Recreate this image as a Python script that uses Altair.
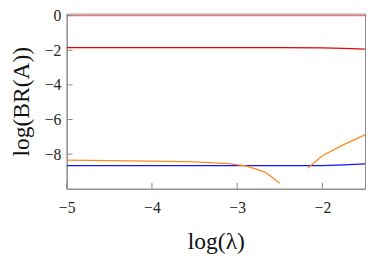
import altair as alt
import pandas as pd

# Series values (log10 lambda, log10 BR)
x_flat = [-5.0, -4.0, -3.0, -2.5, -2.0, -1.75, -1.5]
y_top = [0.0, 0.0, 0.0, 0.0, 0.0, 0.0, 0.0]
y_red = [-1.85, -1.85, -1.85, -1.85, -1.86, -1.89, -1.94]
y_blue = [-8.67, -8.67, -8.67, -8.67, -8.66, -8.62, -8.56]

x_orange1 = [-5.0, -4.5, -4.0, -3.5, -3.1, -2.9, -2.67, -2.5]
y_orange1 = [-8.35, -8.37, -8.40, -8.45, -8.55, -8.68, -9.04, -9.68]
x_orange2 = [-2.17, -2.0, -1.75, -1.5]
y_orange2 = [-8.80, -8.09, -7.45, -6.89]

x_ticks = [-5, -4, -3, -2]
y_ticks = [0, -2, -4, -6, -8]

rows = []
for x, y in zip(x_flat, y_top):
    rows.append(dict(x=x, y=y, s="top"))
for x, y in zip(x_flat, y_red):
    rows.append(dict(x=x, y=y, s="red"))
for x, y in zip(x_flat, y_blue):
    rows.append(dict(x=x, y=y, s="blue"))
for x, y in zip(x_orange1, y_orange1):
    rows.append(dict(x=x, y=y, s="orange1"))
for x, y in zip(x_orange2, y_orange2):
    rows.append(dict(x=x, y=y, s="orange2"))
df = pd.DataFrame(rows)

XD = [-5, -1.5]
YD = [-10, 0.113]
font = "Liberation Serif"
H = 179
lab = "replace(format(datum.value, 'd'), '-', '\u2212')"

xs = alt.Scale(domain=XD, nice=False, zero=False)
ys = alt.Scale(domain=YD, nice=False, zero=False)

lines = alt.Chart(df).mark_line(strokeWidth=1.3, clip=True).encode(
    x=alt.X("x:Q", scale=xs, title="log(λ)",
            axis=alt.Axis(values=x_ticks, ticks=False, labelPadding=11, grid=False,
                          titlePadding=15, labelExpr=lab, labelFont=font,
                          titleFont=font)),
    y=alt.Y("y:Q", scale=ys, title="log(BR(A))",
            axis=alt.Axis(values=y_ticks, ticks=False, labelPadding=6, grid=False,
                          titlePadding=11, labelExpr=lab, labelFont=font,
                          titleFont=font)),
    color=alt.Color("s:N", legend=None,
                    scale=alt.Scale(domain=["top", "red", "blue", "orange1", "orange2"],
                                    range=["#ff6f6f", "#e60000", "#1414ff", "#ff8a1c", "#ff8a1c"])),
    detail="s:N",
)

xt = pd.DataFrame({"t": x_ticks})
yt = pd.DataFrame({"t": y_ticks})
xtick_marks = alt.Chart(xt).mark_rule(color="#888888", strokeWidth=1).encode(
    x=alt.X("t:Q", scale=xs), y=alt.value(H), y2=alt.value(H - 6)
)
ytick_marks = alt.Chart(yt).mark_rule(color="#888888", strokeWidth=1).encode(
    y=alt.Y("t:Q", scale=ys), x=alt.value(0), x2=alt.value(6)
)

chart = alt.layer(lines, xtick_marks, ytick_marks).properties(
    width=305, height=H,
    padding={"left": 60, "top": 3, "right": 1, "bottom": 68},
    autosize=alt.AutoSizeParams(type="none"),
).configure_view(stroke="#888888", strokeWidth=1).configure_axis(
    domainColor="#888888", labelFont=font, titleFont=font, labelFontSize=16,
    titleFontSize=24, titleFontWeight="normal", labelColor="#222222", titleColor="#111111",
    labelFlush=False,
)

chart.save("out.html", embed_options={"renderer": "svg", "actions": False})
